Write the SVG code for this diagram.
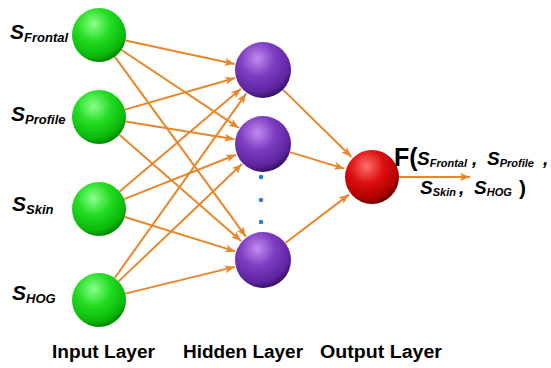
<svg xmlns="http://www.w3.org/2000/svg" width="551" height="368" viewBox="0 0 551 368">
<style>
.conn{stroke:#E8862A;stroke-width:2;fill:none;marker-end:url(#ah)}
.lbl{font-family:"Liberation Sans",Arial,sans-serif;font-weight:bold;fill:#000}
.it{font-style:italic}
</style>
<defs>
<radialGradient id="gG" cx="0.4" cy="0.3" r="0.7">
<stop offset="0" stop-color="#8CFF8C"/>
<stop offset="0.45" stop-color="#22DD22"/>
<stop offset="0.85" stop-color="#0AB80A"/>
<stop offset="1" stop-color="#058A05"/>
</radialGradient>
<radialGradient id="gP" cx="0.4" cy="0.3" r="0.7">
<stop offset="0" stop-color="#C08CF0"/>
<stop offset="0.45" stop-color="#7E3CC0"/>
<stop offset="0.85" stop-color="#5E25A0"/>
<stop offset="1" stop-color="#3A1268"/>
</radialGradient>
<radialGradient id="gR" cx="0.4" cy="0.3" r="0.7">
<stop offset="0" stop-color="#FF7070"/>
<stop offset="0.45" stop-color="#DD1010"/>
<stop offset="0.85" stop-color="#B00000"/>
<stop offset="1" stop-color="#700000"/>
</radialGradient>
<marker id="ah" markerUnits="userSpaceOnUse" markerWidth="11" markerHeight="9" refX="10" refY="4" orient="auto">
<path d="M0,0 L10,4 L0,8 L2.5,4 z" fill="#E8862A"/>
</marker>
</defs>
<g id="connectors">
<line class="conn" x1="125.4" y1="40.6" x2="234.6" y2="63.9"/>
<line class="conn" x1="121.5" y1="50" x2="238.8" y2="127.9"/>
<line class="conn" x1="114.9" y1="56.8" x2="245.9" y2="236.6"/>
<line class="conn" x1="124.9" y1="109.6" x2="235.1" y2="78"/>
<line class="conn" x1="125.6" y1="121.4" x2="234.4" y2="139.3"/>
<line class="conn" x1="119.4" y1="134.7" x2="241.1" y2="240.9"/>
<line class="conn" x1="119.6" y1="191.5" x2="240.9" y2="88.8"/>
<line class="conn" x1="124.1" y1="199.1" x2="236" y2="154.7"/>
<line class="conn" x1="124.8" y1="217" x2="235.3" y2="251.4"/>
<line class="conn" x1="114.7" y1="278" x2="246.2" y2="93.6"/>
<line class="conn" x1="118.6" y1="281.4" x2="242" y2="164"/>
<line class="conn" x1="125.2" y1="293.6" x2="234.8" y2="266.9"/>
<line class="conn" x1="283" y1="89.6" x2="351.3" y2="156.7"/>
<line class="conn" x1="289.8" y1="152.1" x2="344.2" y2="168.6"/>
<line class="conn" x1="285.3" y1="243" x2="348.9" y2="194.6"/>
<line class="conn" x1="399" y1="177" x2="470" y2="177"/>
</g>
<g id="in-frontal">
<circle cx="99" cy="35" r="27" fill="url(#gG)"/>
<text class="lbl it" x="10" y="39" font-size="21">S<tspan font-size="13" dy="3">Frontal</tspan></text>
</g>
<g id="in-profile">
<circle cx="99" cy="117" r="27" fill="url(#gG)"/>
<text class="lbl it" x="11" y="121" font-size="21">S<tspan font-size="13" dy="3">Profile</tspan></text>
</g>
<g id="in-skin">
<circle cx="99" cy="209" r="27" fill="url(#gG)"/>
<text class="lbl it" x="12" y="211" font-size="21">S<tspan font-size="13" dy="3">Skin</tspan></text>
</g>
<g id="in-hog">
<circle cx="99" cy="300" r="27" fill="url(#gG)"/>
<text class="lbl it" x="12" y="300" font-size="21">S<tspan font-size="13" dy="3">HOG</tspan></text>
</g>
<g id="hid-1"><circle cx="263" cy="70" r="28" fill="url(#gP)"/></g>
<g id="hid-2"><circle cx="263" cy="144" r="28" fill="url(#gP)"/></g>
<g id="hid-3"><circle cx="263" cy="260" r="28" fill="url(#gP)"/></g>
<g id="dots" fill="#2E7DC8">
<circle cx="261" cy="177" r="2.3"/>
<circle cx="261" cy="200" r="2.3"/>
<circle cx="261" cy="222" r="2.3"/>
</g>
<g id="out">
<circle cx="372" cy="177" r="27" fill="url(#gR)"/>
<text class="lbl" x="394" y="166" font-size="25">F(</text>
<text class="lbl it" x="417" y="165" font-size="19">S<tspan font-size="11" dy="2">Frontal</tspan><tspan x="472" dy="-2" font-size="19">,</tspan><tspan x="487" font-size="19">S</tspan><tspan font-size="11" dy="2">Profile</tspan><tspan x="543" dy="-2" font-size="19">,</tspan></text>
<text class="lbl it" x="420" y="194" font-size="19">S<tspan font-size="11" dy="2">Skin</tspan><tspan x="459" dy="-2" font-size="19">,</tspan><tspan x="474" font-size="19">S</tspan><tspan font-size="11" dy="2">HOG</tspan></text>
<text class="lbl" x="519" y="195" font-size="21">)</text>
</g>
<g id="layer-labels">
<text class="lbl" x="52" y="358" font-size="18" textLength="103" lengthAdjust="spacingAndGlyphs">Input Layer</text>
<text class="lbl" x="183" y="358" font-size="18" textLength="120" lengthAdjust="spacingAndGlyphs">Hidden Layer</text>
<text class="lbl" x="320" y="358" font-size="18" textLength="122" lengthAdjust="spacingAndGlyphs">Output Layer</text>
</g>
</svg>
